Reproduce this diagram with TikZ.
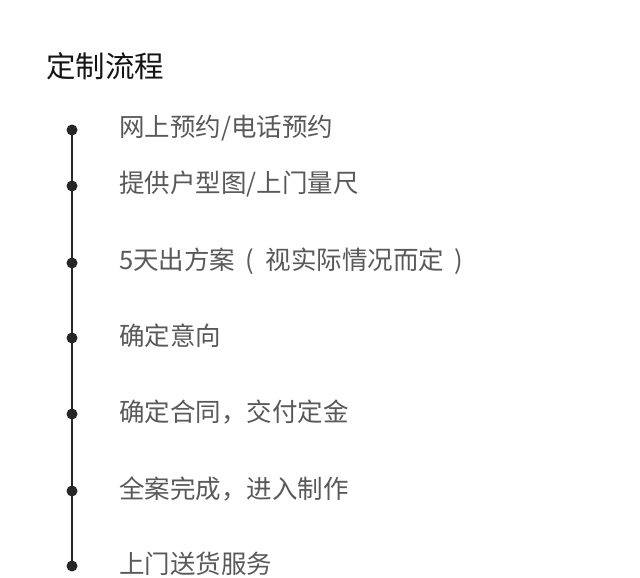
\documentclass[tikz,border=0pt]{standalone}
\usepackage{fontspec}
\newfontfamily\cjk{Noto Sans CJK SC}
\begin{document}
\begin{tikzpicture}[x=1pt,y=-1pt,
  dotm/.style={circle,fill=black!85,inner sep=0pt,minimum size=11pt},
  itemtext/.style={anchor=west,inner sep=0pt,text=black!65,font=\cjk\fontsize{25.5}{28}\selectfont},
  titletext/.style={anchor=west,inner sep=0pt,text=black!92,font=\cjk\fontsize{29.5}{32}\selectfont}]
\useasboundingbox[fill=white] (0,0) rectangle (640,578);
\node[titletext] (title) at (46,66) {定制流程};
\foreach \i/\y/\t in {1/130/{网上预约/电话预约}, 2/186/{提供户型图/上门量尺}, 3/263/{5天出方案\hspace{10pt}(\hspace{12pt}视实际情况而定\hspace{10pt})}, 4/338/{确定意向}, 5/414/{确定合同，交付定金}, 6/491/{全案完成，进入制作}, 7/566/{上门送货服务}}{
  \node[dotm] (d\i) at (72,\y) {};
  \node[itemtext] (t\i) at (119,\y-2) {\t};
}
\draw[line width=2.8pt,black!85] (d1.center) -- (d7.center);
\end{tikzpicture}
\end{document}
